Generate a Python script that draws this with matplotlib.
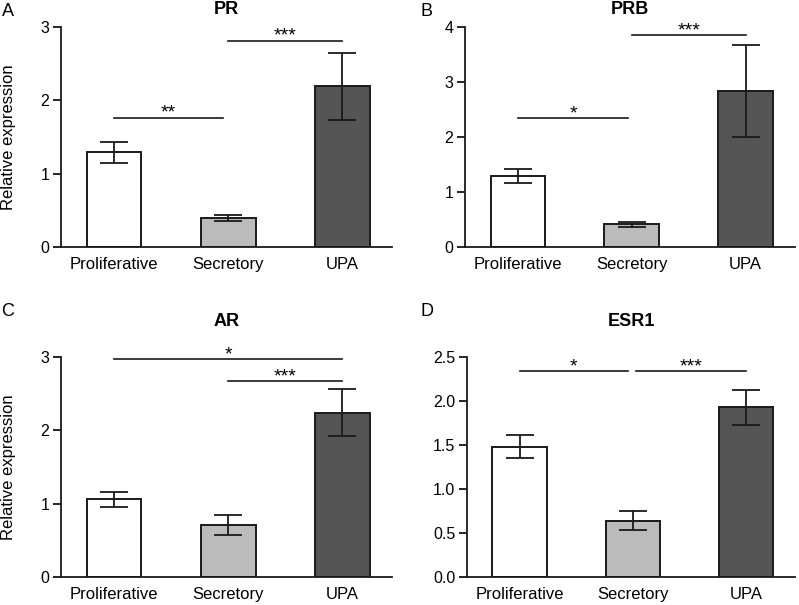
import matplotlib
matplotlib.use("Agg")
import matplotlib.pyplot as plt

plt.rcParams["font.family"] = ["Liberation Sans", "DejaVu Sans"]

GROUPS = ["Proliferative", "Secretory", "UPA"]
BAR_COLORS = ["#ffffff", "#bbbbbb", "#555555"]

TITLES = ["PR", "PRB", "AR", "ESR1"]
LETTERS = ["A", "B", "C", "D"]

PR_MEAN = [1.29, 0.39, 2.19]
PR_ERR = [0.14, 0.04, 0.46]
PRB_MEAN = [1.29, 0.41, 2.84]
PRB_ERR = [0.13, 0.04, 0.84]
AR_MEAN = [1.06, 0.71, 2.24]
AR_ERR = [0.10, 0.14, 0.32]
ESR1_MEAN = [1.48, 0.64, 1.93]
ESR1_ERR = [0.13, 0.11, 0.20]

Y_MAX = [3, 4, 3, 2.5]
Y_TICKS = [[0, 1, 2, 3], [0, 1, 2, 3, 4], [0, 1, 2, 3], [0.0, 0.5, 1.0, 1.5, 2.0, 2.5]]
Y_TICKLABELS = [["0", "1", "2", "3"], ["0", "1", "2", "3", "4"], ["0", "1", "2", "3"],
                ["0.0", "0.5", "1.0", "1.5", "2.0", "2.5"]]

# significance brackets: (x start, x end, height, label)
PR_SIG = [(0, 0.95, 1.76, "**"), (1, 2, 2.81, "***")]
PRB_SIG = [(0, 0.97, 2.34, "*"), (1, 2, 3.85, "***")]
AR_SIG = [(0, 2, 2.97, "*"), (1, 2, 2.67, "***")]
ESR1_SIG = [(0, 0.96, 2.34, "*"), (1.03, 2, 2.34, "***")]

MEANS = [PR_MEAN, PRB_MEAN, AR_MEAN, ESR1_MEAN]
ERRS = [PR_ERR, PRB_ERR, AR_ERR, ESR1_ERR]
SIGS = [PR_SIG, PRB_SIG, AR_SIG, ESR1_SIG]

W, H = 799, 605
# axes boxes in pixels: left, right, top, bottom
BOXES = [(61, 392, 27, 247), (465, 795, 27, 247), (61, 392, 357, 577), (467, 795, 357, 577)]
TITLE_Y = [9.5, 9.5, 321, 321]
LETTER_XY = [(8, 11), (426, 11), (8, 311), (427, 311)]


def main() -> None:
    fig = plt.figure(figsize=(W / 100, H / 100), dpi=100)
    for i in range(4):
        l, r, t, b = BOXES[i]
        ax = fig.add_axes([l / W, 1 - b / H, (r - l) / W, (b - t) / H])
        x = list(range(len(GROUPS)))
        ax.bar(x, MEANS[i], width=0.48, color=BAR_COLORS, edgecolor="#1a1a1a",
               linewidth=1.4, zorder=2)
        ax.errorbar(x, MEANS[i], yerr=ERRS[i], fmt="none", ecolor="#1a1a1a",
                    elinewidth=1.3, capsize=10, capthick=1.3, zorder=3)
        for x0, x1, h, lab in SIGS[i]:
            ax.plot([x0, x1], [h, h], color="#1a1a1a", linewidth=1.2, clip_on=False)
            ax.annotate(lab, xy=((x0 + x1) / 2, h), xytext=(0, 0), textcoords="offset points",
                        ha="center", va="baseline", fontsize=14, annotation_clip=False)
        ax.set_xlim(-0.465, 2.435)
        ax.set_ylim(0, Y_MAX[i])
        ax.set_yticks(Y_TICKS[i])
        ax.set_yticklabels(Y_TICKLABELS[i], fontsize=11.5)
        ax.set_xticks(x)
        ax.set_xticklabels(GROUPS, fontsize=12)
        ax.tick_params(axis="x", length=0, pad=7)
        ax.tick_params(axis="y", length=5.5, width=1.2, pad=3)
        for s in ["top", "right"]:
            ax.spines[s].set_visible(False)
        for s in ["left", "bottom"]:
            ax.spines[s].set_linewidth(1.3)
            ax.spines[s].set_color("#1a1a1a")
        fig.text((l + r) / 2 / W, 1 - TITLE_Y[i] / H, TITLES[i], ha="center", va="center",
                 fontsize=13, fontweight="bold")
        lx, ly = LETTER_XY[i]
        fig.text(lx / W, 1 - ly / H, LETTERS[i], ha="center", va="center", fontsize=13)
        if i in (0, 2):
            fig.text(9 / W, 1 - (t + b) / 2 / H, "Relative expression", rotation=90,
                     ha="center", va="center", fontsize=12)
    fig.savefig("out.png", dpi=100)
    plt.close(fig)


if __name__ == "__main__":
    main()
